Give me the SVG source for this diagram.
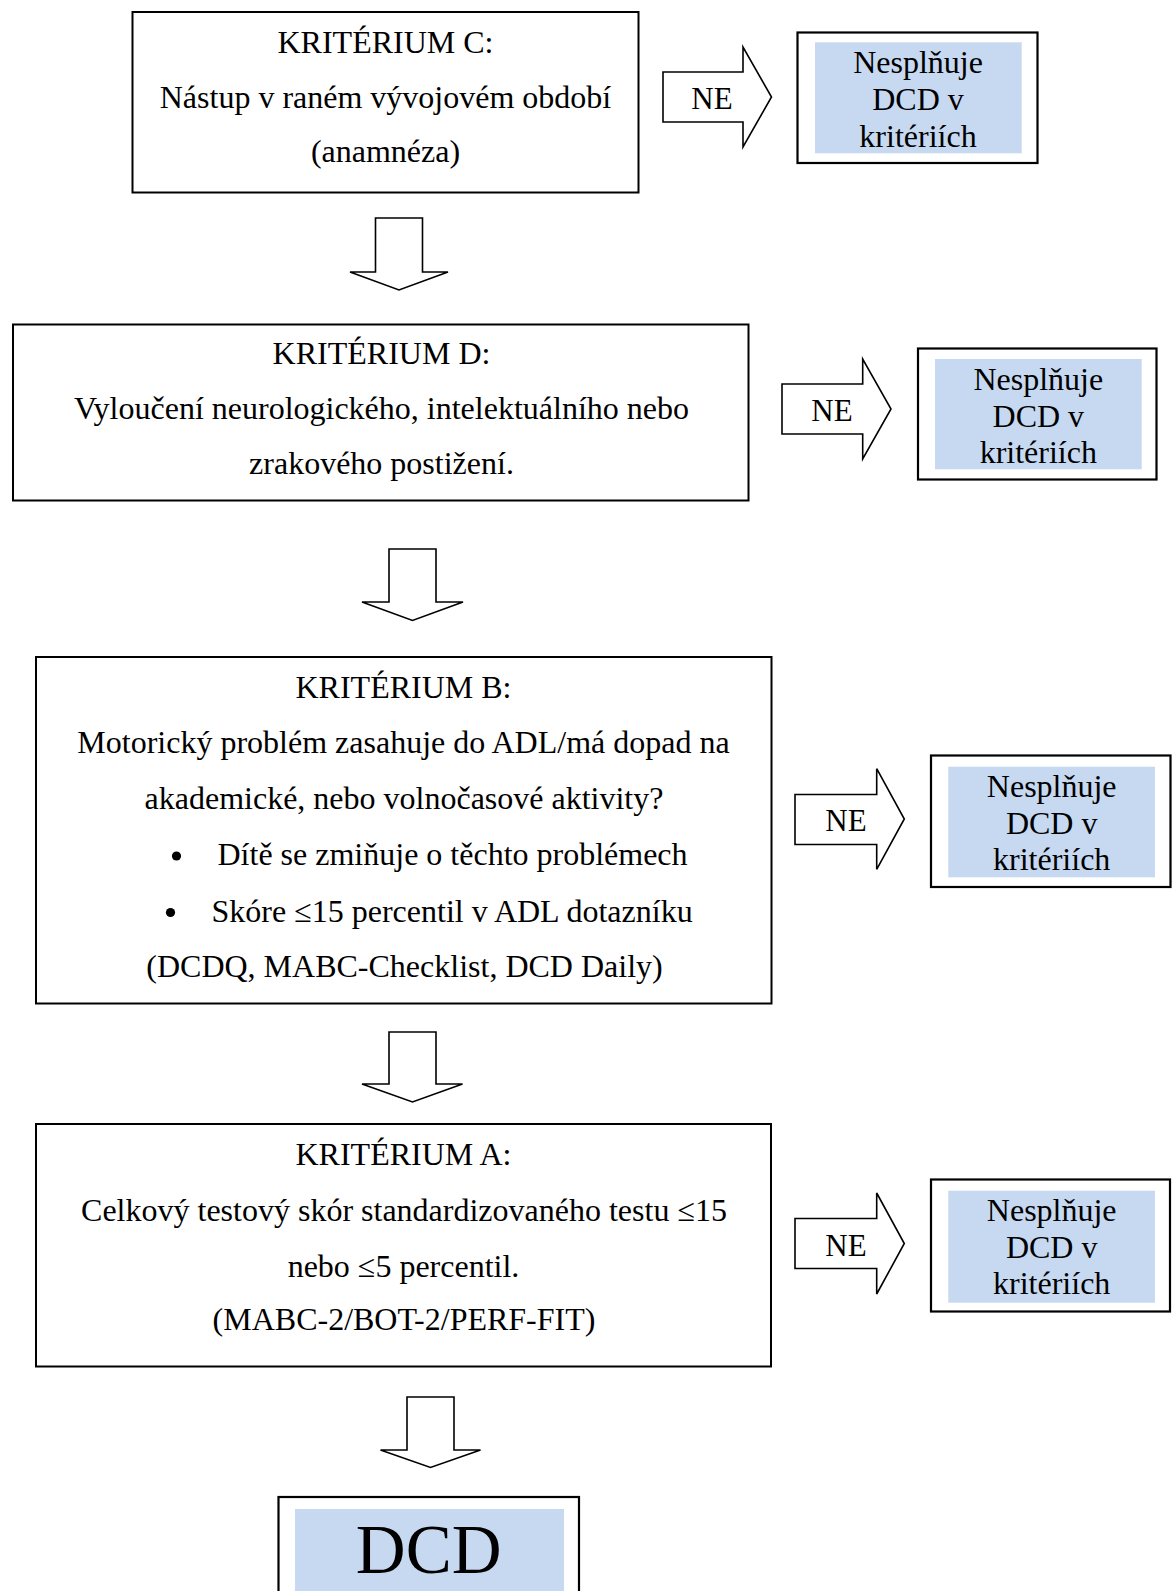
<svg xmlns="http://www.w3.org/2000/svg" width="1173" height="1591" viewBox="0 0 1173 1591">
<style>
  .box { fill: #ffffff; stroke: #000000; stroke-width: 2; }
  .res { fill: #ffffff; stroke: #000000; stroke-width: 2.2; }
  .blue { fill: #C6D9F1; stroke: none; }
  .arr { fill: #ffffff; stroke: #000000; stroke-width: 1.6; stroke-linejoin: miter; }
  .dot { fill: #000000; }
  text { font-family: "Liberation Serif", "Times New Roman", serif; fill: #000000; }
  .t { font-size: 32px; text-anchor: middle; }
  .tl { font-size: 32px; text-anchor: start; }
  .ne { font-size: 31px; text-anchor: middle; }
  .big { font-size: 69px; text-anchor: middle; }
</style>
<rect x="0" y="0" width="1173" height="1591" fill="#ffffff"/>

<g id="connectors">
  <polygon id="down1" class="arr" points="375.5,218 422.5,218 422.5,272 448,272 399,290 350,272 375.5,272"/>
  <polygon id="down2" class="arr" points="389,549 436,549 436,602 463,602 412.5,620.5 362,602 389,602"/>
  <polygon id="down3" class="arr" points="389,1032 436,1032 436,1084 462.5,1084 412.5,1102 362,1084 389,1084"/>
  <polygon id="down4" class="arr" points="407,1397 454,1397 454,1450 480.5,1450 430.5,1467.5 380.5,1450 407,1450"/>
  <g id="ne1">
    <polygon class="arr" points="663,72 743,72 743,47 771.5,97 743,147 743,122 663,122"/>
    <text class="ne" x="712" y="108.5">NE</text>
  </g>
  <g id="ne2">
    <polygon class="arr" points="782,384 862.7,384 862.7,359 891,409 862.7,459 862.7,434 782,434"/>
    <text class="ne" x="832" y="420.5">NE</text>
  </g>
  <g id="ne3">
    <polygon class="arr" points="795,794.5 876.7,794.5 876.7,768.7 904.3,819 876.7,869.3 876.7,844.5 795,844.5"/>
    <text class="ne" x="846" y="830.5">NE</text>
  </g>
  <g id="ne4">
    <polygon class="arr" points="795,1218.5 876.7,1218.5 876.7,1193 904.3,1243.5 876.7,1294 876.7,1268.5 795,1268.5"/>
    <text class="ne" x="846" y="1255.5">NE</text>
  </g>
</g>

<g id="kriteriumC">
  <rect class="box" x="132.5" y="12" width="506" height="180.5"/>
  <text class="t" x="385.5" y="52.5">KRITÉRIUM C:</text>
  <text class="t" x="385.5" y="107.5">Nástup v raném vývojovém období</text>
  <text class="t" x="385.5" y="162">(anamnéza)</text>
</g>

<g id="resultC">
  <rect class="res" x="797.5" y="32.5" width="240" height="130.5"/>
  <rect class="blue" x="815" y="42.3" width="206.7" height="111"/>
  <text class="t" x="918" y="73.3">Nesplňuje</text>
  <text class="t" x="918" y="110">DCD v</text>
  <text class="t" x="918" y="146.5">kritériích</text>
</g>

<g id="kriteriumD">
  <rect class="box" x="13" y="324.5" width="735.5" height="176"/>
  <text class="t" x="381.5" y="363.5">KRITÉRIUM D:</text>
  <text class="t" x="381.5" y="419">Vyloučení neurologického, intelektuálního nebo</text>
  <text class="t" x="381.5" y="474">zrakového postižení.</text>
</g>

<g id="resultD">
  <rect class="res" x="918" y="348.5" width="238.5" height="131"/>
  <rect class="blue" x="935" y="359" width="206.7" height="110.3"/>
  <text class="t" x="1038.3" y="390">Nesplňuje</text>
  <text class="t" x="1038.3" y="427">DCD v</text>
  <text class="t" x="1038.3" y="463.3">kritériích</text>
</g>

<g id="kriteriumB">
  <rect class="box" x="36" y="657" width="735.5" height="346.5"/>
  <text class="t" x="403.5" y="697.5">KRITÉRIUM B:</text>
  <text class="t" x="403.5" y="753">Motorický problém zasahuje do ADL/má dopad na</text>
  <text class="t" x="404" y="808.5">akademické, nebo volnočasové aktivity?</text>
  <circle class="dot" cx="176.5" cy="856" r="4.6"/>
  <text class="tl" x="217.5" y="865">Dítě se zmiňuje o těchto problémech</text>
  <circle class="dot" cx="170.5" cy="912.5" r="4.6"/>
  <text class="tl" x="211.5" y="921.5">Skóre ≤15 percentil v ADL dotazníku</text>
  <text class="t" x="404.5" y="976.5">(DCDQ, MABC-Checklist, DCD Daily)</text>
</g>

<g id="resultB">
  <rect class="res" x="931" y="755.5" width="239.5" height="131.5"/>
  <rect class="blue" x="948.3" y="766.7" width="206.7" height="110.6"/>
  <text class="t" x="1051.7" y="797">Nesplňuje</text>
  <text class="t" x="1051.7" y="834">DCD v</text>
  <text class="t" x="1051.7" y="870">kritériích</text>
</g>

<g id="kriteriumA">
  <rect class="box" x="36" y="1124" width="735" height="242.5"/>
  <text class="t" x="403.5" y="1165">KRITÉRIUM A:</text>
  <text class="t" x="404" y="1220.5">Celkový testový skór standardizovaného testu ≤15</text>
  <text class="t" x="403.5" y="1276.5">nebo ≤5 percentil.</text>
  <text class="t" x="404" y="1330">(MABC-2/BOT-2/PERF-FIT)</text>
</g>

<g id="resultA">
  <rect class="res" x="931" y="1179.5" width="239" height="132"/>
  <rect class="blue" x="948.3" y="1190.7" width="206.7" height="112"/>
  <text class="t" x="1051.7" y="1221">Nesplňuje</text>
  <text class="t" x="1051.7" y="1257.5">DCD v</text>
  <text class="t" x="1051.7" y="1294">kritériích</text>
</g>

<g id="dcd">
  <rect class="res" x="278.5" y="1497" width="300.5" height="110"/>
  <rect class="blue" x="295" y="1509" width="269" height="95"/>
  <text class="big" x="428.7" y="1573">DCD</text>
</g>
</svg>
